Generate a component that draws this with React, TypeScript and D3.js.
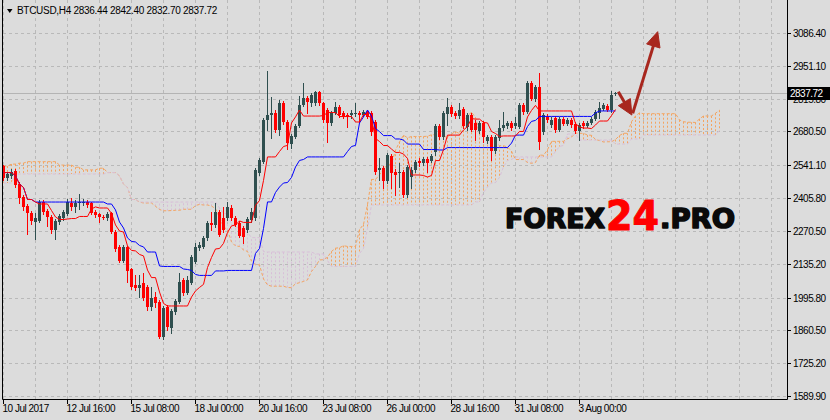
import * as d3 from "d3";

// BTCUSD H4, bars from 10 Jul 2017 00:00, one bar every 4 hours
const opens = [
  2538, 2489, 2497, 2518, 2464, 2410, 2373, 2344, 2307, 2311,
  2390, 2353, 2328, 2274, 2307, 2324, 2340, 2386, 2369, 2384,
  2386, 2390, 2386, 2349, 2340, 2328, 2324, 2344, 2266, 2204,
  2147, 2204, 2114, 2048, 2035, 2056, 2039, 1957, 1998, 1977,
  1833, 1957, 1870, 1936, 1977, 2068, 2015, 2056, 2142, 2200,
  2204, 2241, 2303, 2295, 2349, 2324, 2324, 2365, 2324, 2303,
  2283, 2274, 2316, 2324, 2509, 2555, 2728, 2748, 2757, 2687,
  2798, 2720, 2629, 2658, 2703, 2790, 2819, 2798, 2798, 2843,
  2798, 2769, 2716, 2757, 2781, 2757, 2748, 2748, 2753, 2757,
  2748, 2761, 2757, 2720, 2522, 2530, 2476, 2579, 2513, 2509,
  2513, 2419, 2493, 2522, 2559, 2551, 2567, 2559, 2596, 2703,
  2658, 2753, 2781, 2757, 2744, 2773, 2699, 2748, 2715, 2682,
  2715, 2641, 2658, 2600, 2654, 2695, 2703, 2715, 2703, 2699,
  2790, 2761, 2880, 2814, 2864, 2678, 2740, 2707, 2736, 2687,
  2732, 2711, 2728, 2711, 2683, 2716, 2703, 2716, 2732, 2757,
  2773, 2786, 2769, 2836.44,
];
const highs = [
  2542, 2513, 2526, 2526, 2472, 2419, 2382, 2353, 2344, 2398,
  2398, 2361, 2336, 2320, 2340, 2357, 2402, 2406, 2398, 2423,
  2402, 2398, 2390, 2357, 2344, 2336, 2349, 2349, 2274, 2212,
  2212, 2208, 2118, 2089, 2089, 2097, 2048, 2039, 2019, 1986,
  1961, 1965, 1949, 1990, 2097, 2076, 2085, 2171, 2221, 2225,
  2250, 2311, 2349, 2386, 2357, 2369, 2390, 2377, 2332, 2311,
  2291, 2328, 2365, 2530, 2571, 2736, 2930, 2823, 2769, 2810,
  2806, 2728, 2670, 2711, 2827, 2880, 2827, 2839, 2847, 2847,
  2802, 2777, 2765, 2802, 2790, 2765, 2757, 2769, 2798, 2765,
  2769, 2769, 2765, 2728, 2571, 2538, 2592, 2588, 2526, 2551,
  2522, 2542, 2534, 2563, 2571, 2575, 2575, 2588, 2711, 2711,
  2765, 2818, 2790, 2765, 2798, 2781, 2757, 2757, 2728, 2724,
  2724, 2666, 2666, 2666, 2728, 2761, 2724, 2724, 2740, 2798,
  2798, 2889, 2889, 2872, 2922, 2757, 2753, 2740, 2744, 2740,
  2740, 2736, 2736, 2720, 2716, 2724, 2724, 2740, 2769, 2802,
  2798, 2794, 2847, 2842.4,
];
const lows = [
  2480, 2480, 2489, 2452, 2386, 2357, 2258, 2299, 2237, 2307,
  2340, 2291, 2262, 2237, 2299, 2316, 2336, 2357, 2349, 2361,
  2377, 2369, 2340, 2328, 2307, 2320, 2316, 2262, 2188, 2142,
  2142, 2060, 2031, 2027, 1998, 1986, 1944, 1944, 1957, 1829,
  1825, 1862, 1850, 1928, 1973, 2006, 2010, 2052, 2138, 2192,
  2200, 2233, 2274, 2287, 2250, 2266, 2316, 2316, 2291, 2245,
  2221, 2266, 2307, 2316, 2501, 2551, 2687, 2654, 2678, 2666,
  2711, 2608, 2612, 2654, 2699, 2786, 2757, 2786, 2790, 2790,
  2720, 2637, 2707, 2753, 2740, 2736, 2699, 2736, 2744, 2720,
  2744, 2736, 2666, 2505, 2480, 2447, 2468, 2447, 2419, 2452,
  2410, 2410, 2447, 2513, 2538, 2542, 2513, 2555, 2583, 2649,
  2649, 2707, 2744, 2736, 2736, 2695, 2687, 2682, 2645, 2674,
  2637, 2633, 2563, 2592, 2645, 2687, 2695, 2687, 2695, 2695,
  2753, 2757, 2810, 2806, 2608, 2670, 2720, 2699, 2678, 2683,
  2707, 2707, 2699, 2674, 2645, 2695, 2699, 2711, 2728, 2736,
  2769, 2765, 2761, 2832.7,
];
const closes = [
  2489, 2505, 2513, 2460, 2406, 2369, 2344, 2311, 2324, 2390,
  2349, 2328, 2274, 2311, 2332, 2349, 2390, 2369, 2386, 2388,
  2390, 2377, 2344, 2336, 2328, 2324, 2340, 2266, 2196, 2147,
  2204, 2105, 2039, 2035, 2048, 1994, 1957, 1994, 1973, 1833,
  1953, 1874, 1940, 1982, 2060, 2015, 2068, 2163, 2204, 2212,
  2241, 2303, 2295, 2349, 2254, 2274, 2369, 2324, 2295, 2250,
  2245, 2320, 2349, 2522, 2563, 2728, 2748, 2757, 2687, 2798,
  2720, 2633, 2662, 2703, 2790, 2819, 2802, 2831, 2843, 2798,
  2728, 2716, 2757, 2781, 2748, 2740, 2740, 2757, 2757, 2748,
  2761, 2740, 2678, 2513, 2530, 2476, 2583, 2509, 2501, 2513,
  2419, 2534, 2522, 2555, 2551, 2567, 2551, 2579, 2703, 2658,
  2757, 2781, 2753, 2744, 2769, 2703, 2748, 2687, 2687, 2715,
  2658, 2658, 2600, 2658, 2695, 2707, 2715, 2695, 2715, 2790,
  2761, 2880, 2814, 2864, 2637, 2748, 2728, 2728, 2687, 2732,
  2711, 2728, 2707, 2683, 2707, 2703, 2716, 2732, 2761, 2777,
  2790, 2769, 2831, 2837.72,
];

// cloud values for the first 26 bars (they come from bars before the window)
const leadSpanA = [
  2538, 2538, 2546, 2546, 2550, 2550, 2556, 2556, 2556, 2556,
  2556, 2556, 2556, 2556, 2542, 2542, 2542, 2542, 2533, 2533,
  2522, 2522, 2522, 2522, 2529, 2529,
];
const leadSpanB = [
  2468, 2468, 2468, 2505, 2505, 2505, 2505, 2505, 2505, 2505,
  2505, 2505, 2505, 2505, 2505, 2505, 2505, 2505, 2505, 2505,
  2505, 2505, 2505, 2505, 2505, 2505,
];

const priceTicks = [3086.4, 2951.1, 2815.8, 2680.5, 2541.1, 2405.8, 2270.5, 2135.2, 1995.8, 1860.5, 1725.2, 1589.9];
const timeLabels = [
  "10 Jul 2017", "12 Jul 16:00", "15 Jul 08:00", "18 Jul 00:00", "20 Jul 16:00",
  "23 Jul 08:00", "26 Jul 00:00", "28 Jul 16:00", "31 Jul 08:00", "3 Aug 00:00",
];
const symbolName = "BTCUSD,H4";
const lastBar = [2836.44, 2842.4, 2832.7, 2837.72];

// forecast arrows: [bar index, price]
const arrowFrom = [[153.7, 2844], [157.3, 2755]];
const arrowTo = [[157.1, 2748], [163.55, 3092]];

const W = 830;
const H = 420;
const plot = { left: 3, right: 787, top: 0, bottom: 399 };
const font = "'Liberation Sans', Arial, sans-serif";

const midRange = (from: number, to: number) =>
  ((d3.max(highs.slice(from, to + 1)) as number) + (d3.min(lows.slice(from, to + 1)) as number)) / 2;

const tenkan = closes.map((_, i) => midRange(Math.max(0, i - 8), i));
const kijun = closes.map((_, i) => midRange(Math.max(0, i - 25), i));
const spanA = [...leadSpanA, ...closes.map((_, i) => (tenkan[i] + kijun[i]) / 2)];
const spanB = [...leadSpanB, ...closes.map((_, i) => midRange(Math.max(0, i - 51), i))];

export default function App() {
  const x = d3.scaleLinear().domain([0, 1]).range([3.5, 7.5]);
  const y = d3.scaleLinear().domain([1589.9, 3086.4]).range([396, 33]);

  const line = d3
    .line<number>()
    .x((_, i) => x(i))
    .y((d) => y(d));

  const gridXs = d3.range(0, 196, 8);
  const lastPrice = lastBar[3];

  const arrowShapes = arrowFrom.map((from, i) => {
    const x1 = x(from[0]);
    const y1 = y(from[1]);
    const x2 = x(arrowTo[i][0]);
    const y2 = y(arrowTo[i][1]);
    const len = Math.hypot(x2 - x1, y2 - y1);
    const ux = (x2 - x1) / len;
    const uy = (y2 - y1) / len;
    const headLen = 15;
    const halfW = 7;
    const bx = x2 - ux * headLen;
    const by = y2 - uy * headLen;
    const head = [
      [x2, y2],
      [bx - uy * halfW, by + ux * halfW],
      [bx + uy * halfW, by - ux * halfW],
    ];
    return { x1, y1, x2: bx + ux * 2, y2: by + uy * 2, head: head.map((p) => p.join(",")).join(" ") };
  });

  return (
    <svg
      width={W}
      height={H}
      style={{ position: "absolute", left: 0, top: 0, background: "#dcdcdc" }}
      fontFamily={font}
    >
      <defs>
        <clipPath id="plotClip">
          <rect x={plot.left} y={plot.top} width={plot.right - plot.left} height={plot.bottom - plot.top} />
        </clipPath>
      </defs>
      <rect width={W} height={H} fill="#dcdcdc" />

      {/* grid */}
      <g stroke="#b9b9b9" strokeDasharray="3,3" strokeWidth={1}>
        {priceTicks.map((p) => (
          <line key={p} x1={plot.left} x2={plot.right} y1={Math.round(y(p)) + 0.5} y2={Math.round(y(p)) + 0.5} />
        ))}
        {gridXs.map((k) => (
          <line key={k} x1={x(k)} x2={x(k)} y1={plot.top} y2={plot.bottom} />
        ))}
      </g>

      <g clipPath="url(#plotClip)">
        {/* last price line */}
        <line
          x1={plot.left}
          x2={plot.right}
          y1={Math.round(y(lastPrice)) + 0.5}
          y2={Math.round(y(lastPrice)) + 0.5}
          stroke="#b4b4b4"
        />

        {/* kumo hatching */}
        <g strokeDasharray="2,2">
          {spanA.map((a, i) => (
            <line
              key={i}
              x1={x(i)}
              x2={x(i)}
              y1={y(a)}
              y2={y(spanB[i])}
              stroke={a >= spanB[i] ? "#f4a460" : "#d8bfd8"}
            />
          ))}
        </g>
        <path d={line(spanA) ?? ""} fill="none" stroke="#f4a460" strokeDasharray="3,2" />
        <path d={line(spanB) ?? ""} fill="none" stroke="#d8bfd8" strokeDasharray="3,2" />

        {/* candles */}
        {closes.map((c, i) => {
          const o = opens[i];
          const up = c >= o;
          const col = up ? "#2f4f4f" : "#ff0000";
          const top = Math.round(y(Math.max(o, c)));
          const bot = Math.round(y(Math.min(o, c)));
          return (
            <g key={i}>
              <line x1={x(i)} x2={x(i)} y1={Math.round(y(highs[i]))} y2={Math.round(y(lows[i])) + 1} stroke={col} />
              <rect x={x(i) - 1.5} y={top} width={3} height={Math.max(1, bot - top)} fill={col} />
            </g>
          );
        })}

        {/* tenkan / kijun */}
        <path d={line(kijun) ?? ""} fill="none" stroke="#0000ff" strokeWidth={1} />
        <path d={line(tenkan) ?? ""} fill="none" stroke="#ff0000" strokeWidth={1} />

        {/* arrows */}
        {arrowShapes.map((a, i) => (
          <g key={i} fill="#a8271e" stroke="#a8271e">
            <line x1={a.x1} y1={a.y1} x2={a.x2} y2={a.y2} strokeWidth={3} />
            <polygon points={a.head} strokeWidth={1} strokeLinejoin="round" />
          </g>
        ))}
      </g>

      {/* logo */}
      <g fontFamily="'DejaVu Sans', sans-serif" fontWeight="bold" strokeLinejoin="round">
        <text x={505} y={228} fontSize={27} textLength={100} lengthAdjust="spacingAndGlyphs" fill="#0a0a0a" stroke="#0a0a0a" strokeWidth={1.6}>
          FOREX
        </text>
        <text x={606} y={230} fontSize={40} textLength={53} lengthAdjust="spacingAndGlyphs" fill="#ff0000" stroke="#ff0000" strokeWidth={1}>
          24
        </text>
        <text x={660} y={228} fontSize={27} textLength={75} lengthAdjust="spacingAndGlyphs" fill="#0a0a0a" stroke="#0a0a0a" strokeWidth={1.6}>
          .PRO
        </text>
      </g>

      {/* frame */}
      <g stroke="#000" strokeWidth={1} fill="none">
        <line x1={2.5} x2={2.5} y1={0} y2={399.5} />
        <line x1={2.5} x2={787.5} y1={399.5} y2={399.5} />
        <line x1={787.5} x2={787.5} y1={0} y2={399.5} />
      </g>

      {/* price axis */}
      <g fontSize={10} letterSpacing={-0.5} fill="#000">
        {priceTicks.map((p) => (
          <g key={p}>
            <line x1={787} x2={791} y1={Math.round(y(p)) + 0.5} y2={Math.round(y(p)) + 0.5} stroke="#000" />
            <text x={793} y={Math.round(y(p)) + 4}>
              {p.toFixed(2)}
            </text>
          </g>
        ))}
        <rect x={788} y={Math.round(y(lastPrice)) - 6} width={42} height={13} fill="#000" />
        <text x={790} y={Math.round(y(lastPrice)) + 4} fill="#fff">
          {lastPrice.toFixed(2)}
        </text>
      </g>

      {/* time axis */}
      <g fontSize={10} letterSpacing={-0.5} fill="#000">
        {timeLabels.map((t, j) => (
          <g key={t}>
            <line x1={x(j * 16)} x2={x(j * 16)} y1={399} y2={404} stroke="#000" />
            <text x={x(j * 16) - 1} y={412}>
              {t}
            </text>
          </g>
        ))}
      </g>

      {/* header */}
      <path d="M7,9 L12.5,9 L9.75,13 Z" fill="#000" />
      <text x={17} y={14} fontSize={10} letterSpacing={-0.3} fill="#000">
        {symbolName + "  " + lastBar.map((v) => v.toFixed(2)).join(" ")}
      </text>
    </svg>
  );
}
